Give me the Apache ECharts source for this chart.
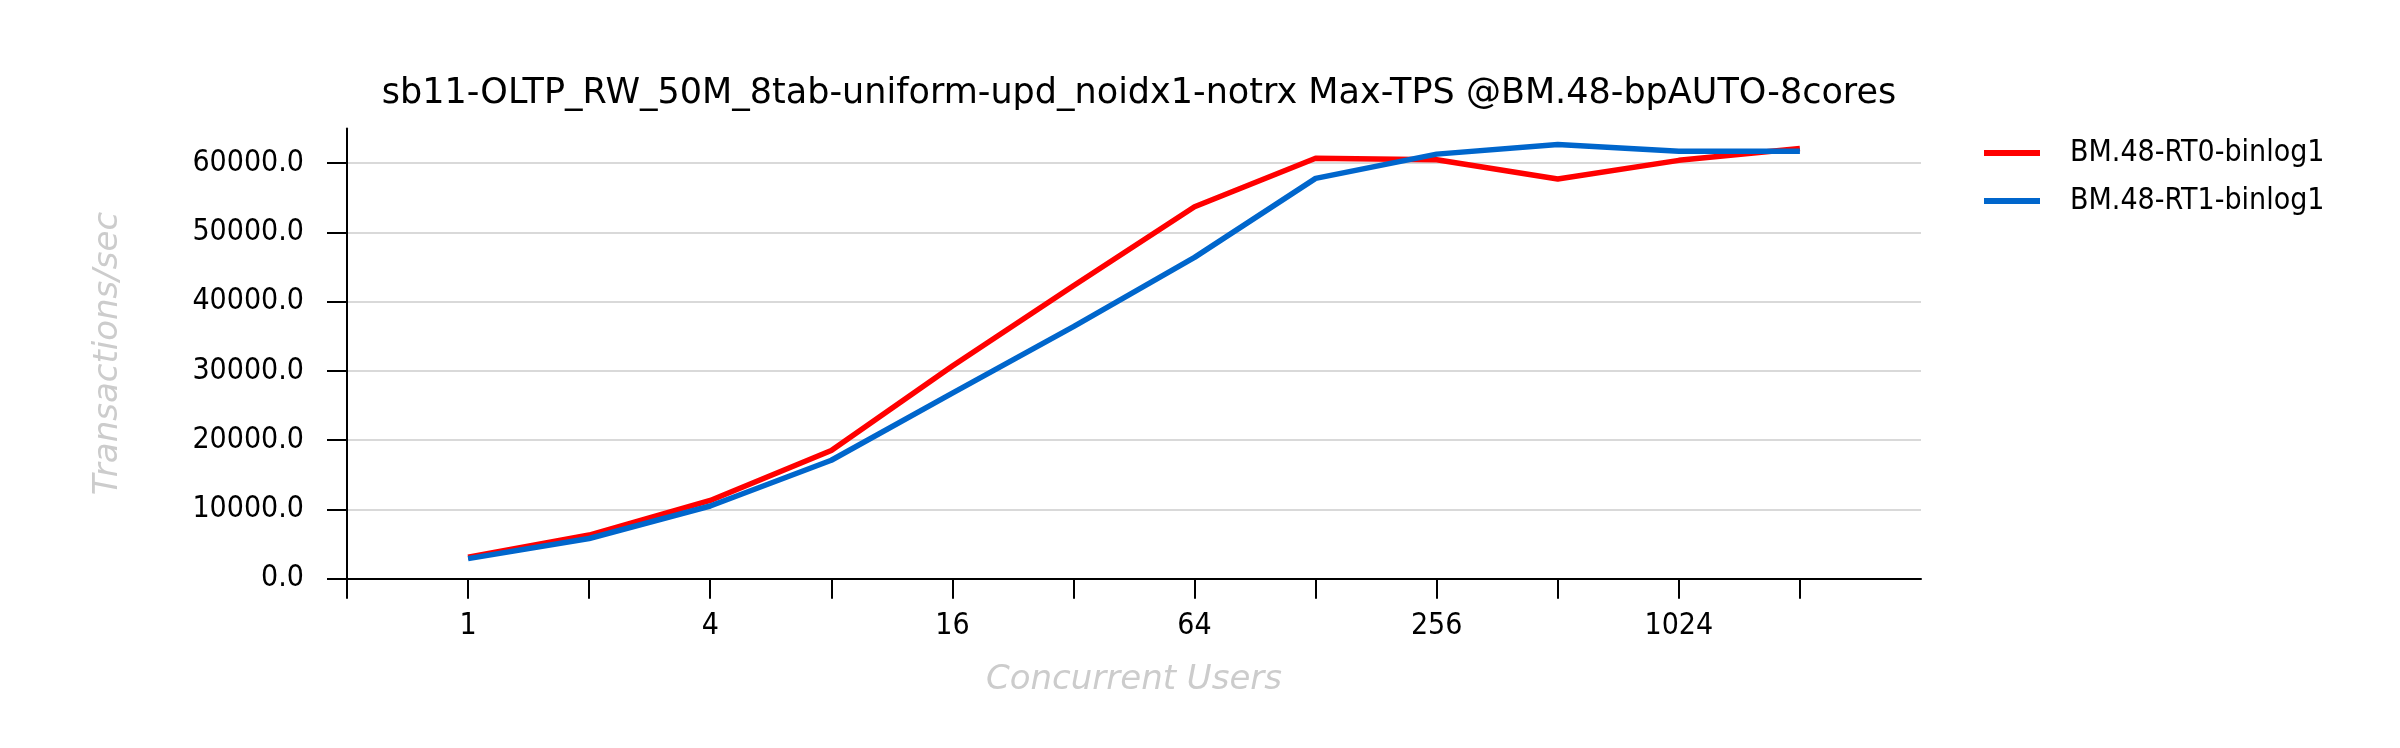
<!DOCTYPE html>
<html>
<head>
<meta charset="utf-8">
<script src="https://cdn.jsdelivr.net/npm/echarts@6/dist/echarts.min.js"></script>
<style>
  html, body { margin: 0; padding: 0; background: #fff; }
  #chart { width: 2400px; height: 748px; }
</style>
</head>
<body>
<div id="chart"></div>
<script>
const titleText = 'sb11-OLTP_RW_50M_8tab-uniform-upd_noidx1-notrx Max-TPS @BM.48-bpAUTO-8cores';
const users = ['1', '2', '4', '8', '16', '32', '64', '128', '256', '512', '1024', '2048'];
const seriesNames = ['BM.48-RT0-binlog1', 'BM.48-RT1-binlog1'];
const rt0 = [3100, 6300, 11300, 18500, 30700, 42300, 53700, 60700, 60500, 57700, 60400, 62100];
const rt1 = [2900, 5800, 10500, 17100, 26800, 36400, 46400, 57800, 61300, 62700, 61700, 61700];
const yTicks = [0, 10000, 20000, 30000, 40000, 50000, 60000];

const FONT = "'DejaVu Sans Condensed', 'DejaVu Sans', sans-serif";
const FONT_WIDE = "'DejaVu Sans', sans-serif";
const chart = echarts.init(document.getElementById('chart'), null, { renderer: 'canvas' });

const xCats = [''].concat(users, ['']);

chart.setOption({
  animation: false,
  backgroundColor: '#ffffff',
  title: {
    text: titleText,
    left: 1134,
    top: 71,
    textAlign: 'center',
    textStyle: { fontFamily: FONT_WIDE, fontSize: 35, fontWeight: 'normal', color: '#000' }
  },
  legend: {
    left: 1979,
    top: 133,
    orient: 'vertical',
    itemWidth: 56,
    itemHeight: 6,
    itemGap: 18,
    icon: 'rect',
    textStyle: { fontFamily: FONT, fontSize: 30, color: '#000', padding: [6, 0, 0, 25] },
    data: seriesNames
  },
  grid: { left: 347, right: 479, top: 128.5, bottom: 169.3, containLabel: false },
  xAxis: {
    type: 'category',
    data: xCats,
    boundaryGap: false,
    name: 'Concurrent Users',
    nameLocation: 'middle',
    nameGap: 84,
    nameTextStyle: { fontFamily: FONT_WIDE, fontSize: 34, fontStyle: 'italic', color: '#cccccc' },
    axisLine: { lineStyle: { color: '#000', width: 2 } },
    axisTick: { show: true, length: 20, interval: (i) => i <= users.length, lineStyle: { color: '#000', width: 2 } },
    axisLabel: {
      interval: (i) => i % 2 === 1 && i <= users.length,
      margin: 33,
      fontFamily: FONT, fontSize: 30, color: '#000'
    },
    splitLine: { show: false }
  },
  yAxis: {
    type: 'value',
    min: 0,
    max: 65000,
    interval: 10000,
    name: 'Transactions/sec',
    nameLocation: 'middle',
    nameRotate: 90,
    nameGap: 222,
    nameTextStyle: { fontFamily: FONT_WIDE, fontSize: 34, fontStyle: 'italic', color: '#cccccc' },
    axisLine: { show: true, lineStyle: { color: '#000', width: 2 } },
    axisTick: { show: true, length: 20, customValues: yTicks, lineStyle: { color: '#000', width: 2 } },
    axisLabel: {
      customValues: yTicks,
      margin: 43,
      formatter: (v) => v.toFixed(1),
      fontFamily: FONT, fontSize: 30, color: '#000'
    },
    splitLine: { show: true, lineStyle: { color: '#cccccc', width: 1.5 } }
  },
  series: [
    {
      name: seriesNames[0],
      type: 'line',
      symbol: 'none',
      color: '#ff0000',
      lineStyle: { width: 5.5, color: '#ff0000' },
      data: rt0.map((v, i) => [i + 1, v])
    },
    {
      name: seriesNames[1],
      type: 'line',
      symbol: 'none',
      color: '#0066cc',
      lineStyle: { width: 5.5, color: '#0066cc' },
      data: rt1.map((v, i) => [i + 1, v])
    }
  ]
});
</script>
</body>
</html>
